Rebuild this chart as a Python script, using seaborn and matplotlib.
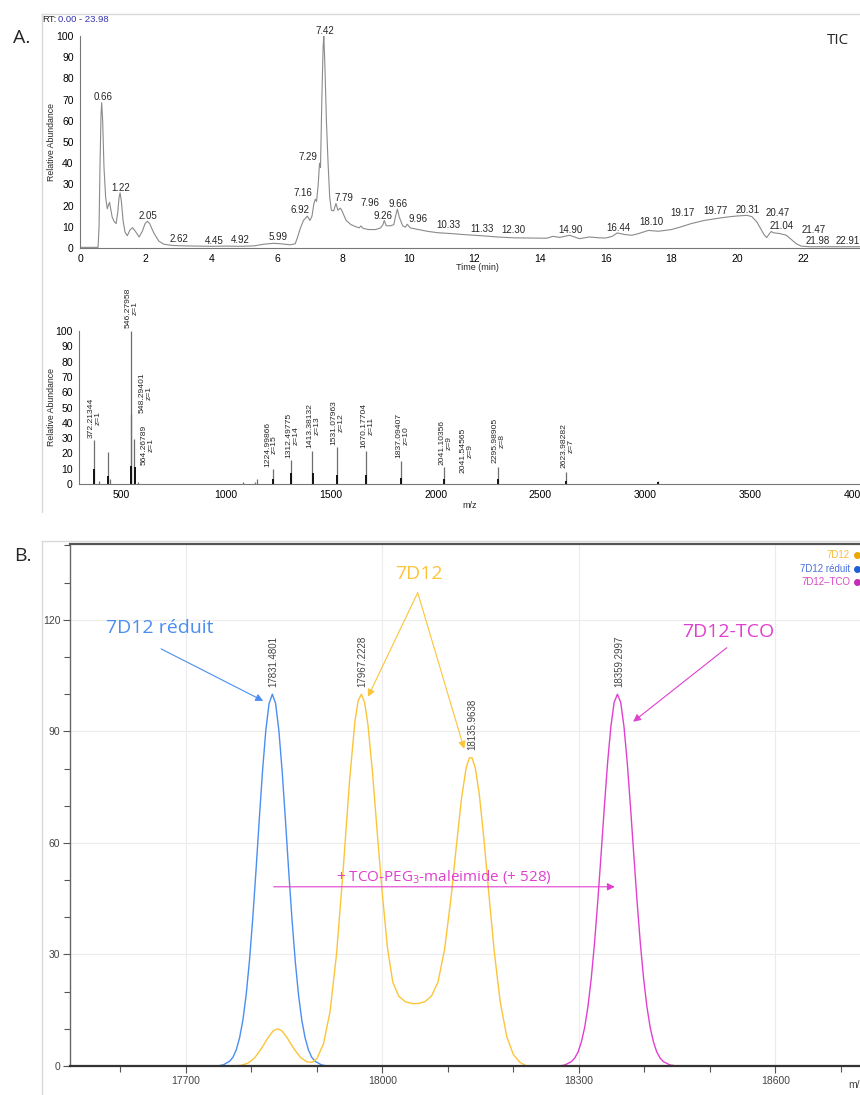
import matplotlib
matplotlib.use('Agg')
import matplotlib.pyplot as plt
from matplotlib.lines import Line2D
from matplotlib.ticker import MultipleLocator
import seaborn as sns

# ---- panel A : TIC chromatogram (time min, relative abundance)
tic_time = [0.0, 0.3, 0.55, 0.58, 0.61, 0.64, 0.66, 0.69, 0.73, 0.78, 0.83, 0.87, 0.90, 0.94, 0.98,
            1.04, 1.10, 1.15, 1.19, 1.22, 1.26, 1.31, 1.37, 1.44, 1.52, 1.60, 1.68, 1.80, 1.90, 1.98,
            2.05, 2.12, 2.25, 2.40, 2.55, 2.8, 3.2, 3.6, 4.0, 4.45, 4.9, 5.3, 5.6, 5.9, 6.1, 6.4,
            6.55, 6.62, 6.70, 6.80, 6.92, 7.0, 7.06, 7.12, 7.16, 7.20, 7.25, 7.29, 7.32, 7.36, 7.40,
            7.42, 7.45, 7.50, 7.55, 7.60, 7.65, 7.72, 7.79, 7.85, 7.92, 7.96, 8.1, 8.25, 8.4, 8.5,
            8.55, 8.62, 8.8, 9.0, 9.15, 9.22, 9.26, 9.32, 9.45, 9.55, 9.62, 9.66, 9.72, 9.82, 9.90,
            9.96, 10.05, 10.3, 10.6, 10.9, 11.3, 11.7, 12.2, 12.7, 13.2, 13.7, 14.2, 14.4, 14.6, 14.9,
            15.2, 15.5, 15.8, 16.0, 16.2, 16.35, 16.6, 16.8, 17.0, 17.3, 17.6, 18.0, 18.3, 18.6, 19.0,
            19.5, 19.8, 20.0, 20.3, 20.45, 20.6, 20.72, 20.82, 20.9, 20.97, 21.04, 21.1, 21.3, 21.5,
            21.65, 21.8, 21.95, 22.2, 23.0, 23.74]
tic_abund = [0.3, 0.3, 0.3, 10, 40, 63, 68.5, 60, 38, 24, 18.5, 20.5, 21.5, 18, 14.5,
             12.5, 11.5, 17, 24, 26, 22, 13, 7.5, 5.8, 8.5, 9.6, 8, 5.2, 8, 11.5,
             12.6, 11.5, 7, 3.2, 1.8, 1.2, 1.0, 0.9, 0.8, 0.9, 0.8, 1.0, 1.8, 2.2, 2.0, 1.5,
             2.0, 5, 9, 13, 15, 13, 15, 21, 23, 22, 30, 40, 38, 70, 95,
             100, 88, 60, 40, 24, 17.8, 17.5, 21, 17.8, 18.8, 18, 13, 11, 10, 9.5,
             10.4, 9.2, 8.7, 8.7, 9.5, 11, 13, 10.5, 10.5, 11.0, 16, 18.3, 14.5, 10.5, 9.8,
             11.2, 9.5, 8.7, 7.8, 7.2, 6.8, 6.3, 5.8, 5.2, 4.8, 4.7, 4.6, 5.5, 5.0, 6.0,
             4.4, 5.2, 4.8, 4.7, 5.5, 7.1, 6.3, 6.0, 6.8, 8.3, 7.9, 8.7, 10, 11.5, 13,
             14.2, 14.8, 15.1, 15.4, 14.8, 12.3, 9, 6.3, 4.9, 6.5, 7.8, 7.2, 6.8, 6.0,
             4, 2.0, 0.9, 0.6, 0.6, 0.6]

tic_peak_rt = [0.66, 1.22, 2.05, 2.62, 4.45, 4.92, 5.99, 6.92, 7.16, 7.29, 7.42, 7.79, 7.96, 9.26,
               9.66, 9.96, 10.33, 11.33, 12.30, 14.90, 16.44, 18.10, 19.17, 19.77, 20.31, 20.47,
               21.04, 21.47, 21.98, 22.91]
tic_label_x = [0.70, 1.25, 2.07, 3.01, 4.08, 4.87, 6.03, 6.70, 6.79, 6.94, 7.46, 8.03, 8.83, 9.22,
               9.68, 10.29, 11.20, 12.23, 13.18, 14.94, 16.40, 17.38, 18.35, 19.35, 20.33, 21.24,
               21.36, 22.34, 22.46, 23.37]
tic_label_y = [71.2, 28.3, 15.1, 4.2, 3.3, 3.8, 5.2, 17.9, 25.9, 42.9, 102.4, 23.6, 21.2, 15.1,
               20.8, 13.7, 10.8, 8.9, 8.5, 8.5, 9.4, 12.3, 16.5, 17.5, 17.9, 16.5,
               10.4, 8.5, 3.3, 3.3]

# ---- panel A : mass spectrum
ms_mz = [372.21, 395, 437, 450, 546.28, 548.29, 564.27, 580, 1080, 1140, 1147, 1224.99, 1312.50,
         1413.38, 1531.08, 1670.18, 1837.09, 2041.10, 2295.99, 2623.98, 3060]
ms_int = [28.8, 2, 21, 3, 100, 46, 29.6, 1.5, 1, 1.5, 3, 9.8, 15.7,
          21.8, 24, 21.4, 15, 10.9, 11.3, 8, 2]
ms_iso_mz = [372.5, 437.5, 547, 565, 1225.5, 1312.8, 1413.6, 1531.3, 1670.4, 1837.4, 2041.4,
             2296.3, 2624.3, 3062]
ms_iso_int = [10, 5, 12, 11, 3, 7, 7, 6, 6, 4, 3, 3, 2, 1]

ms_label_mass = ['372.21344', '546.27958', '548.29401', '564.26789', '1224.99866', '1312.49775',
                 '1413.38132', '1531.07963', '1670.17704', '1837.09407', '2041.10356',
                 '2041.54565', '2295.98905', '2623.98282']
ms_label_z = [1, 1, 1, 1, 15, 14, 13, 12, 11, 10, 9, 9, 8, 7]
ms_label_x = [374, 551, 620, 626, 1216, 1317, 1419, 1532, 1677, 1842, 2047, 2149, 2300, 2629]
ms_label_y = [29.8, 101.7, 46.2, 12.4, 11.3, 16.8, 23.3, 25.5, 23.3, 16.8, 12.4, 7.0, 13.5, 10.2]

# ---- panel B : deconvoluted spectra
blue_mz = [17748, 17757, 17767, 17772, 17777, 17782, 17787, 17792, 17797, 17802, 17807, 17812,
           17817, 17822, 17827, 17832, 17837, 17842, 17847, 17852, 17857, 17862, 17867, 17872,
           17877, 17882, 17887, 17892, 17897, 17907, 17916]
blue_int = [0.0, 0.3, 1.3, 2.4, 4.4, 7.6, 12.3, 19.1, 28.2, 39.5, 52.4, 66.2,
            79.3, 90.2, 97.5, 100.0, 97.5, 90.2, 79.3, 66.2, 52.4, 39.5, 28.2, 19.1,
            12.3, 7.6, 4.4, 2.4, 1.3, 0.3, 0.0]
orange_mz = [17772, 17785, 17795, 17805, 17815, 17825, 17833, 17840, 17847, 17855, 17865, 17875,
             17885, 17893, 17900, 17910, 17920, 17930, 17940, 17950, 17958, 17963, 17968, 17973,
             17978, 17985, 17993, 18000, 18008, 18016, 18025, 18035, 18045, 18055, 18065, 18075,
             18085, 18095, 18105, 18113, 18121, 18128, 18133, 18137, 18142, 18148, 18155, 18163,
             18171, 18180, 18190, 18200, 18210, 18220]
orange_int = [0.0, 0.2, 0.8, 2.2, 4.6, 7.5, 9.4, 10.0, 9.4, 7.5, 4.6, 2.3,
              1.1, 1.0, 2.0, 5.9, 14.5, 30.0, 52.4, 76.9, 92.5, 98.2, 100.0, 97.7,
              91.8, 78.9, 61.0, 46.2, 31.5, 22.5, 18.8, 17.3, 16.8, 16.8, 17.3, 18.8,
              22.6, 31.3, 45.4, 59.1, 72.1, 80.2, 82.9, 82.9, 80.1, 73.2, 61.3, 45.6,
              30.6, 17.3, 7.9, 3.1, 1.0, 0.0]
magenta_mz = [18271, 18279, 18289, 18294, 18299, 18304, 18309, 18314, 18319, 18324, 18329, 18334,
              18339, 18344, 18349, 18354, 18359, 18364, 18369, 18374, 18379, 18384, 18389, 18394,
              18399, 18404, 18409, 18414, 18419, 18424, 18429, 18439, 18449]
magenta_int = [0.0, 0.3, 1.2, 2.2, 3.8, 6.5, 10.4, 16.0, 23.5, 33.0, 44.3, 56.8,
               69.6, 81.6, 91.3, 97.8, 100.0, 97.8, 91.3, 81.6, 69.6, 56.8, 44.3, 33.0,
               23.5, 16.0, 10.4, 6.5, 3.8, 2.2, 1.2, 0.3, 0.0]
peak_mz = [17831.4801, 17967.2228, 18135.9638, 18359.2997]
peak_int = [100, 100, 83, 100]

C_BLUE = '#4a8ef0'
C_ORANGE = '#fcc43a'
C_MAG = '#e040cf'

sns.set_theme(style='white')
plt.rcParams['font.family'] = ['Liberation Sans', 'DejaVu Sans']
plt.rcParams['mathtext.fontset'] = 'custom'
plt.rcParams['mathtext.rm'] = 'Open Sans'

W, H = 860, 1095
fig = plt.figure(figsize=(8.6, 10.95), dpi=100)
fig.patch.set_facecolor('white')


def fx(px):
    return px / W


def fy(py):
    return 1 - py / H


# light frames around the two panels
frame = '#d9d9d9'
fig.add_artist(Line2D([fx(42), 1], [fy(14), fy(14)], color=frame, lw=1))
fig.add_artist(Line2D([fx(42), fx(42)], [fy(14), fy(512)], color=frame, lw=1))
fig.add_artist(Line2D([fx(42), 1], [fy(541), fy(541)], color=frame, lw=1))
fig.add_artist(Line2D([fx(42), fx(42)], [fy(541), 0], color=frame, lw=1))

fig.text(fx(22), fy(38), 'A.', fontsize=14, family='Open Sans', ha='center', va='center')
fig.text(fx(23), fy(556), 'B.', fontsize=14, family='Open Sans', ha='center', va='center')


def style_thermo(ax):
    sns.despine(ax=ax)
    for s in ['left', 'bottom']:
        ax.spines[s].set_color('#777')
        ax.spines[s].set_linewidth(0.8)
    ax.tick_params(which='major', direction='out', length=3, width=0.6, color='#777',
                   labelsize=7.5, pad=1.5, labelcolor='black')
    ax.tick_params(which='minor', direction='out', length=1.5, width=0.5, color='#999')
    ax.yaxis.set_major_locator(MultipleLocator(10))
    ax.yaxis.set_minor_locator(MultipleLocator(2))
    ax.set_ylim(0, 100)
    ax.set_xlabel('')
    ax.set_ylabel('')


# ---- TIC
ax1 = fig.add_axes([fx(80), fy(248), 780 / W, 212 / H])
sns.lineplot(x=tic_time, y=tic_abund, ax=ax1, color='#8a8a8a', lw=0.8, sort=False, estimator=None)
ax1.set_xlim(0, 23.74)
style_thermo(ax1)
ax1.xaxis.set_major_locator(MultipleLocator(2))
ax1.xaxis.set_minor_locator(MultipleLocator(0.2))
for rt, lx, ly in zip(tic_peak_rt, tic_label_x, tic_label_y):
    ax1.text(lx, ly, f'{rt:.2f}', fontsize=7, ha='center', va='center', clip_on=False)
fig.text(fx(42), fy(20), 'RT:', fontsize=6.8, ha='left', va='center')
fig.text(fx(58), fy(20), '0.00 - 23.98', fontsize=6.8, ha='left', va='center', color='#3434b0')
fig.text(fx(838), fy(40), 'TIC', fontsize=11, family='Open Sans', ha='center', va='center')
fig.text(fx(52), fy(142), 'Relative Abundance', fontsize=6.3, rotation=90, ha='center', va='center')
fig.text(fx(477), fy(268), 'Time (min)', fontsize=6.5, ha='center', va='center')

# ---- mass spectrum
ax2 = fig.add_axes([fx(79), fy(484), 781 / W, 153 / H])
ax2.vlines(ms_mz, 0, ms_int, color='#6e6e6e', lw=0.9)
ax2.vlines(ms_iso_mz, 0, ms_iso_int, color='#111111', lw=1.4)
ax2.set_xlim(300, 4024)
style_thermo(ax2)
ax2.xaxis.set_major_locator(MultipleLocator(500))
ax2.xaxis.set_minor_locator(MultipleLocator(100))
for m, z, lx, ly in zip(ms_label_mass, ms_label_z, ms_label_x, ms_label_y):
    ax2.text(lx, ly, f'{m}\nz={z}', fontsize=6.1, rotation=90, ha='center', va='bottom',
             multialignment='center', linespacing=1.0, clip_on=False)
fig.text(fx(52), fy(407), 'Relative Abundance', fontsize=6.3, rotation=90, ha='center', va='center')
fig.text(fx(470), fy(506), 'm/z', fontsize=6.5, ha='center', va='center')

# ---- panel B
ax3 = fig.add_axes([fx(70), fy(1066), 810 / W, 522 / H])
ax3.grid(True, which='major', color='#ececec', lw=0.8)
ax3.set_axisbelow(True)
sns.lineplot(x=blue_mz, y=blue_int, ax=ax3, color=C_BLUE, lw=1.0, sort=False, estimator=None)
sns.lineplot(x=orange_mz, y=orange_int, ax=ax3, color=C_ORANGE, lw=1.0, sort=False, estimator=None)
sns.lineplot(x=magenta_mz, y=magenta_int, ax=ax3, color=C_MAG, lw=1.0, sort=False, estimator=None)
ax3.set_xlim(17523, 18760)
ax3.set_ylim(0, 140.4)
ax3.xaxis.set_major_locator(MultipleLocator(300))
ax3.xaxis.set_minor_locator(MultipleLocator(100))
ax3.yaxis.set_major_locator(MultipleLocator(30))
ax3.yaxis.set_minor_locator(MultipleLocator(10))
ax3.tick_params(which='major', direction='out', length=5, width=0.8, color='#555',
                labelsize=7.5, labelcolor='#444', pad=2, left=True, bottom=True)
ax3.tick_params(which='minor', direction='out', length=4, width=0.8, color='#555',
                left=True, bottom=True)
ax3.spines['right'].set_visible(False)
ax3.spines['top'].set_color('#555')
ax3.spines['top'].set_linewidth(1.6)
ax3.spines['left'].set_color('#666')
ax3.spines['left'].set_linewidth(1.0)
ax3.spines['bottom'].set_color('#333')
ax3.spines['bottom'].set_linewidth(1.6)
ax3.set_xlabel('')
ax3.set_ylabel('')
fig.text(fx(848), fy(1085), 'm/z', fontsize=7.5, color='#444', ha='left', va='center')

for mz, h in zip(peak_mz, peak_int):
    ax3.text(mz + 2, h + 2, f'{mz:.4f}', rotation=90, ha='center', va='bottom',
             fontsize=7, color='#444')

# annotations
ax3.text(17660, 117.8, '7D12 réduit', color=C_BLUE, fontsize=14, family='Open Sans',
         ha='center', va='center')
ax3.annotate('', xy=(17818, 98.2), xytext=(17662, 112.2),
             arrowprops=dict(arrowstyle='-|>', color=C_BLUE, lw=0.8, shrinkA=0, shrinkB=0,
                             mutation_scale=11))
ax3.text(18056, 132.4, '7D12', color=C_ORANGE, fontsize=14, family='Open Sans',
         ha='center', va='center')
for tip in [(17978, 99.3), (18125, 85.3)]:
    ax3.annotate('', xy=tip, xytext=(18054, 127.3),
                 arrowprops=dict(arrowstyle='-|>', color=C_ORANGE, lw=0.8, shrinkA=0,
                                 shrinkB=0, mutation_scale=11))
ax3.text(18528, 116.8, '7D12-TCO', color=C_MAG, fontsize=14, family='Open Sans',
         ha='center', va='center')
ax3.annotate('', xy=(18383, 92.6), xytext=(18526, 112.5),
             arrowprops=dict(arrowstyle='-|>', color=C_MAG, lw=0.8, shrinkA=0, shrinkB=0,
                             mutation_scale=11))
ax3.annotate('', xy=(18355, 48.2), xytext=(17834, 48.2),
             arrowprops=dict(arrowstyle='-|>', color=C_MAG, lw=0.8, shrinkA=0, shrinkB=0,
                             mutation_scale=11))
ax3.text(18094, 50.9, '+ TCO-PEG$_3$-maleimide (+ 528)', color=C_MAG, fontsize=11,
         family='Open Sans', ha='center', va='center')

# legend top right
legend_names = ['7D12', '7D12 réduit', '7D12–TCO']
legend_text_cols = ['#f7bd3c', '#4a70dc', '#d84cc6']
legend_dot_cols = ['#e8a800', '#1f5fd6', '#c42eb2']
for i, (name, tc, dc) in enumerate(zip(legend_names, legend_text_cols, legend_dot_cols)):
    yy = fy(555 + 13.5 * i)
    fig.text(fx(850), yy, name, color=tc, fontsize=7, ha='right', va='center')
    fig.add_artist(Line2D([fx(857)], [yy], marker='o', ms=4, color=dc, lw=0))

fig.savefig('out.png', dpi=100)
